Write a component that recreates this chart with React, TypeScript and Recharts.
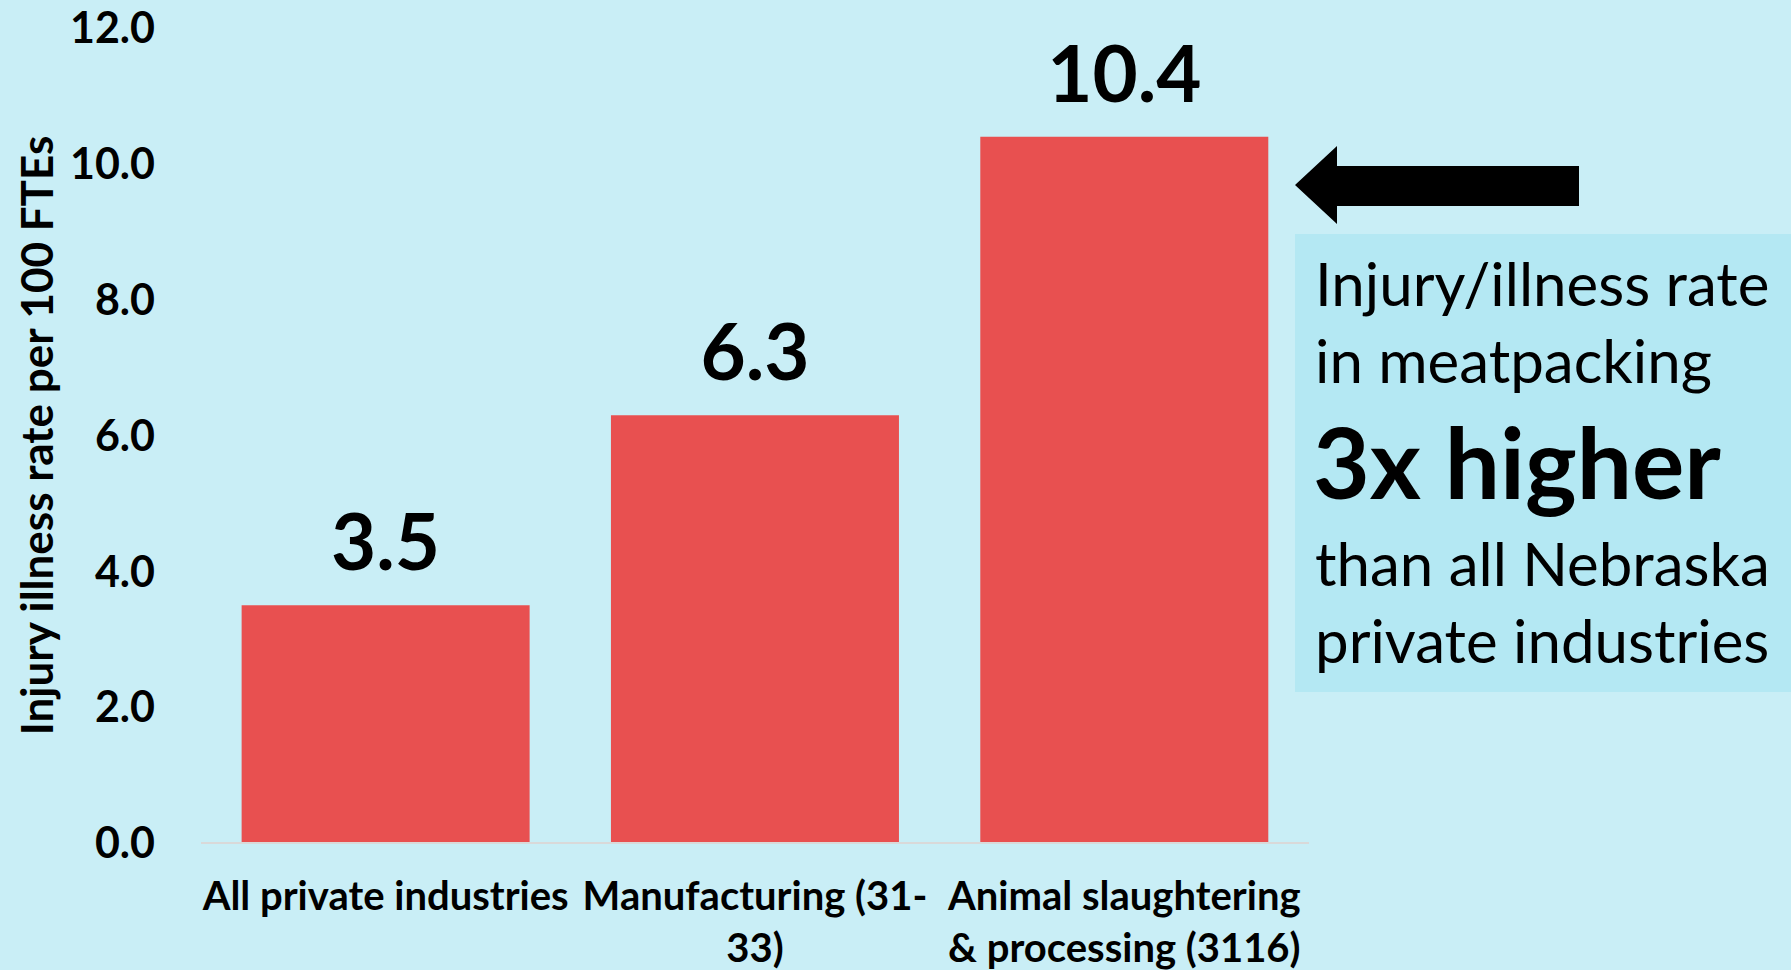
import { Bar, BarChart, LabelList, XAxis, YAxis } from "recharts";

const categories = ["All private industries", "Manufacturing (31-33)", "Animal slaughtering & processing (3116)"];
const categoryLines = [
  ["All private industries"],
  ["Manufacturing (31-", "33)"],
  ["Animal slaughtering", "& processing (3116)"]
];
const rates = [3.5, 6.3, 10.4];
const yTicks = [0, 2, 4, 6, 8, 10, 12];
const noteLines = ["Injury/illness rate", "in meatpacking", "3x higher", "than all Nebraska", "private industries"];

const FONT = "Lato, 'Open Sans', sans-serif";
const BG = "#C9EEF6";
const BAR = "#E85050";

const data = categories.map((name, i) => ({ name, lines: categoryLines[i], rate: rates[i] }));

const XTick = (props: any) => {
  const { x, y, index } = props;
  const lines = categoryLines[index] || [];
  return (
    <text x={x} y={y} textAnchor="middle" fontFamily={FONT} fontWeight={700} fontSize={40} fill="#000">
      {lines.map((l, i) => (
        <tspan key={i} x={x} dy={i === 0 ? 59 : 52}>{l}</tspan>
      ))}
    </text>
  );
};

const YLabel = (props: any) => {
  const vb = props.viewBox;
  const cx = vb.x + 36;
  const cy = vb.y + vb.height / 2;
  return (
    <text
      x={cx}
      y={cy}
      transform={`rotate(-90 ${cx} ${cy})`}
      textAnchor="middle"
      dominantBaseline="central"
      fontFamily={FONT}
      fontWeight={700}
      fontSize={44}
      fill="#000"
    >
      Injury illness rate per 100 FTEs
    </text>
  );
};

const App = () => {
  return (
    <div style={{ position: "absolute", top: 0, left: 0, width: 1791, height: 970, background: BG, overflow: "hidden" }}>
      <BarChart
        width={1791}
        height={970}
        data={data}
        margin={{ top: 28, right: 482, bottom: 0, left: 0 }}
        barCategoryGap="11%"
      >
        <XAxis
          dataKey="name"
          height={127}
          interval={0}
          tickLine={false}
          axisLine={{ stroke: "#D9D9D9", strokeWidth: 2 }}
          tick={<XTick />}
        />
        <YAxis
          width={201}
          domain={[0, 12]}
          ticks={yTicks}
          axisLine={false}
          tickLine={false}
          tickSize={0}
          tickMargin={46}
          tickFormatter={(v: number) => v.toFixed(1)}
          tick={{ fontFamily: FONT, fontWeight: 700, fontSize: 43, fill: "#000" }}
          label={{ content: <YLabel /> }}
        />
        <Bar dataKey="rate" fill={BAR} isAnimationActive={false}>
          <LabelList
            dataKey="rate"
            position="top"
            offset={35}
            formatter={(v: any) => Number(v).toFixed(1)}
            style={{ fontFamily: FONT, fontWeight: 700, fontSize: 78, fill: "#000" }}
          />
        </Bar>
      </BarChart>

      <svg style={{ position: "absolute", left: 0, top: 0 }} width={1791} height={970}>
        <polygon points="1295,185 1337,146 1337,166 1579,166 1579,206 1337,206 1337,224" fill="#000" />
        <rect x={1295} y={234} width={496} height={458} fill="#B4E8F3" />
        <g fontFamily={FONT} fill="#000">
          <text x={1315} y={306} fontSize={60}>{noteLines[0]}</text>
          <text x={1315} y={383} fontSize={60}>{noteLines[1]}</text>
          <text x={1313} y={499} fontSize={98} fontWeight={700}>{noteLines[2]}</text>
          <text x={1315} y={586} fontSize={60}>{noteLines[3]}</text>
          <text x={1315} y={663} fontSize={60}>{noteLines[4]}</text>
        </g>
      </svg>
    </div>
  );
};

export default App;
